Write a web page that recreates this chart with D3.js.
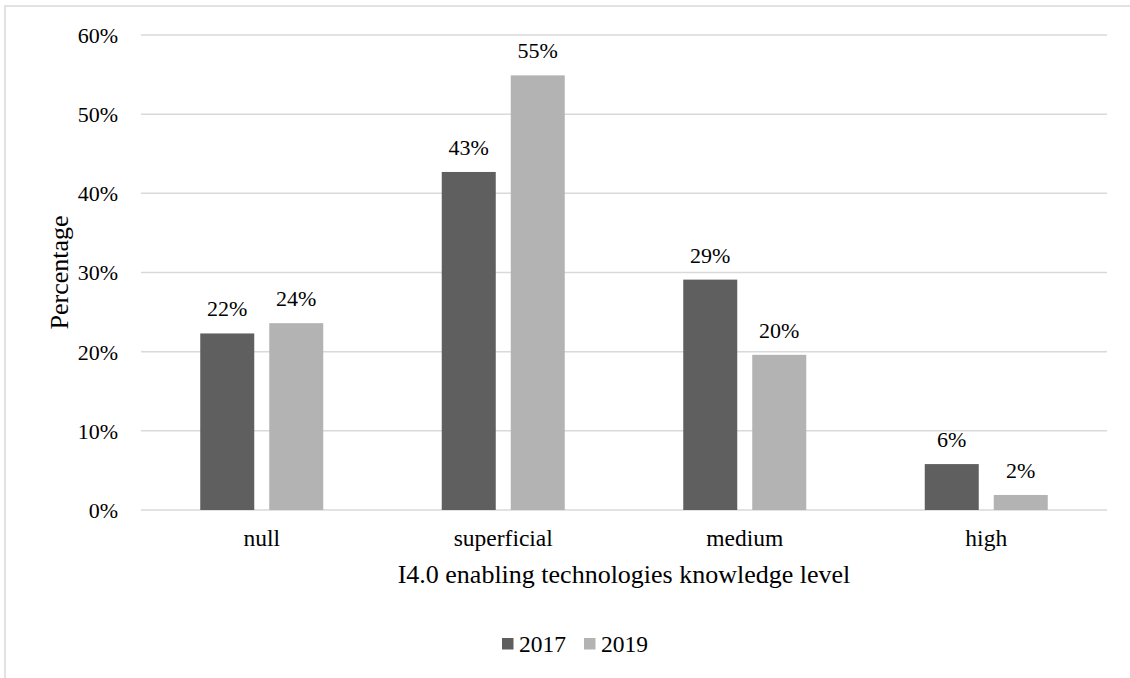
<!DOCTYPE html>
<html>
<head>
<meta charset="utf-8">
<script src="https://cdn.jsdelivr.net/npm/d3@7"></script>
</head>
<body style="margin:0;padding:0;background:#fff;">
<div id="chart"></div>
<script>
const categories = ["null", "superficial", "medium", "high"];
const seriesNames = ["2017", "2019"];
const values2017 = [0.223, 0.427, 0.291, 0.058];
const values2019 = [0.236, 0.549, 0.196, 0.019];
const dataLabels2017 = ["22%", "43%", "29%", "6%"];
const dataLabels2019 = ["24%", "55%", "20%", "2%"];
const yTicks = [0, 0.1, 0.2, 0.3, 0.4, 0.5, 0.6];
const colors = ["#5f5f5f", "#b3b3b3"];
const xTitle = "I4.0 enabling technologies knowledge level";
const yTitle = "Percentage";

const FONT = "'Liberation Serif'";
const W = 1130, H = 678;

function draw() {
  d3.select("#chart").selectAll("*").remove();
  const svg = d3.select("#chart").append("svg").attr("width", W).attr("height", H).style("display", "block");

  function styleText(sel, size) {
    return sel.attr("style", `font-family:${FONT}; font-size:${size}px; fill:#000`);
  }

  svg.append("rect").attr("x", 5).attr("y", 6).attr("width", W + 10).attr("height", H + 10)
    .attr("fill", "none").attr("stroke", "#d9d9d9").attr("stroke-width", 1.5);

  const plot = { left: 141, right: 1107, top: 35, bottom: 510 };
  const x0 = d3.scaleBand().domain(categories).range([plot.left, plot.right]).paddingInner(0).paddingOuter(0);
  const y = d3.scaleLinear().domain([0, 0.6]).range([plot.bottom, plot.top]);

  svg.append("g").selectAll("line").data(yTicks).join("line")
    .attr("x1", plot.left).attr("x2", plot.right)
    .attr("y1", d => y(d)).attr("y2", d => y(d))
    .attr("stroke", "#d9d9d9").attr("stroke-width", 1.5);

  const yAxis = d3.axisLeft(y).tickValues(yTicks).tickFormat(d3.format(".0%")).tickSize(0).tickPadding(0);
  const yg = svg.append("g").attr("transform", `translate(118,0)`).call(yAxis);
  yg.attr("font-family", "Liberation Serif");
  yg.select(".domain").remove();
  styleText(yg.selectAll("text"), 22).attr("dy", "0.34em");

  const series = seriesNames.map((s, i) => ({
    name: s,
    values: i === 0 ? values2017 : values2019,
    labels: i === 0 ? dataLabels2017 : dataLabels2019,
    color: colors[i]
  }));

  categories.forEach((cat, ci) => {
    const center = x0(cat) + x0.bandwidth() / 2;
    const x1 = d3.scaleBand().domain(seriesNames).range([center - 61.5, center + 61.5]).paddingInner(15 / 69).paddingOuter(0);
    series.forEach(s => {
      const v = s.values[ci];
      svg.append("rect")
        .attr("x", x1(s.name)).attr("width", x1.bandwidth())
        .attr("y", y(v)).attr("height", y(0) - y(v))
        .attr("fill", s.color);
      styleText(svg.append("text")
        .attr("x", x1(s.name) + x1.bandwidth() / 2)
        .attr("y", y(v) - 17)
        .attr("text-anchor", "middle"), 22)
        .text(s.labels[ci]);
    });
  });

  const xAxis = d3.axisBottom(x0).tickSize(0).tickPadding(0);
  const xg = svg.append("g").attr("transform", `translate(0,546)`).call(xAxis);
  xg.attr("font-family", "Liberation Serif");
  xg.select(".domain").remove();
  styleText(xg.selectAll("text"), 23.5).attr("dy", 0);

  styleText(svg.append("text").attr("x", (plot.left + plot.right) / 2).attr("y", 583)
    .attr("text-anchor", "middle"), 26).text(xTitle);
  styleText(svg.append("text").attr("transform", `translate(68,272.5) rotate(-90)`)
    .attr("text-anchor", "middle"), 26).text(yTitle);

  const legend = svg.append("g");
  const legendX = [502, 584];
  series.forEach((s, i) => {
    legend.append("rect").attr("x", legendX[i]).attr("y", 638).attr("width", 11.5).attr("height", 11.5).attr("fill", s.color);
    styleText(legend.append("text").attr("x", legendX[i] + 17).attr("y", 652), 23.5).text(s.name);
  });
}

draw();
if (document.fonts && document.fonts.load) {
  document.fonts.load("26px 'Liberation Serif'").then(draw).catch(() => {});
}
</script>
</body>
</html>
